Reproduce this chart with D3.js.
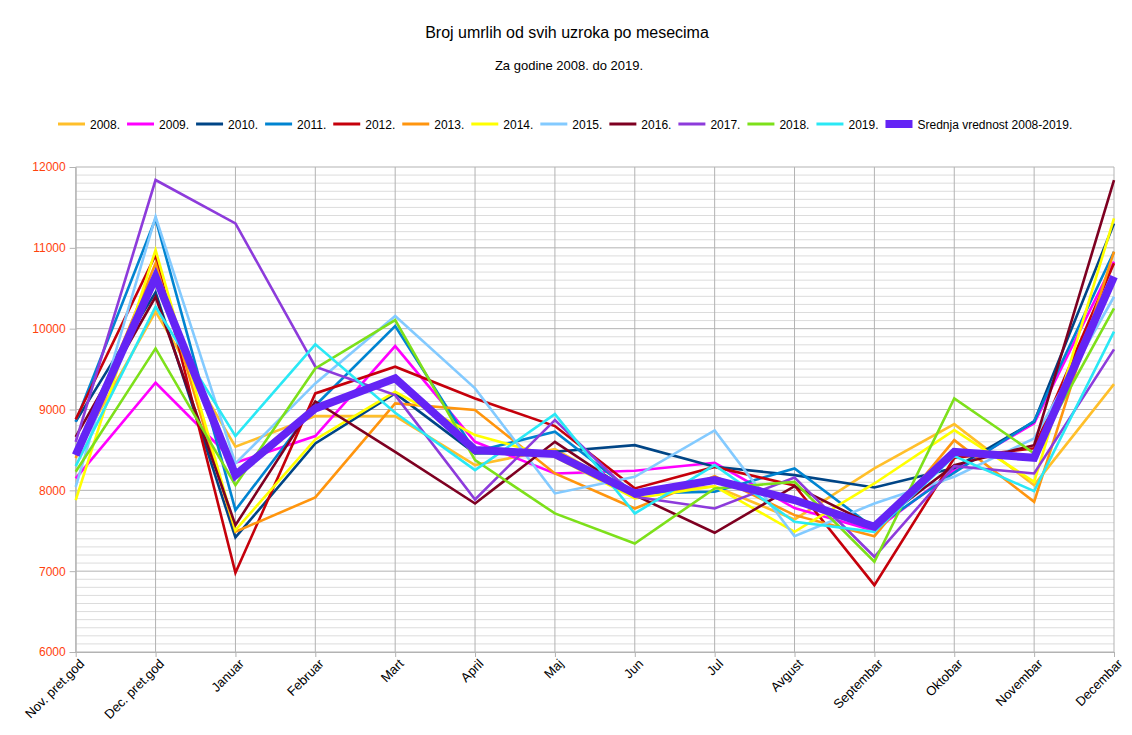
<!DOCTYPE html>
<html><head><meta charset="utf-8">
<script src="https://cdn.jsdelivr.net/npm/d3@7"></script>
<style>body{margin:0;background:#fff} svg{display:block;font-family:"Liberation Sans",Arial,sans-serif}</style>
</head><body><svg id="c" width="1132" height="735"></svg>
<script>
const categories = ["Nov. pret.god","Dec. pret.god","Januar","Februar","Mart","April","Maj","Jun","Jul","Avgust","Septembar","Oktobar","Novembar","Decembar"];
const seriesNames = ["2008.","2009.","2010.","2011.","2012.","2013.","2014.","2015.","2016.","2017.","2018.","2019."];
const v2008 = [8450,10210,8539,8918,8918,8312,8510,7950,8050,7640,8271,8819,8064,9314];
const v2009 = [8147,9331,8341,8671,9785,8600,8209,8243,8341,7780,7500,8250,8830,10830];
const v2010 = [8850,10450,7417,8580,9199,8457,8477,8559,8292,8188,8035,8275,8850,11300];
const v2011 = [8848,11360,7755,9050,10032,8480,8725,7962,7983,8271,7530,8220,8856,10950];
const v2012 = [8877,10911,6979,9199,9529,9137,8795,8024,8290,8060,6827,8400,8520,10808];
const v2013 = [8400,10808,7487,7912,9075,8993,8209,7775,8176,7693,7433,8621,7858,10952];
const v2014 = [7879,10973,7507,8630,9219,8683,8415,7900,8050,7487,8085,8745,8105,11365];
const v2015 = [8044,11385,8333,9323,10156,9261,7962,8168,8741,7433,7837,8168,8642,10395];
const v2016 = [8662,10395,7569,9100,8477,7837,8600,7940,7475,8052,7560,8312,8559,11839];
const v2017 = [8600,11839,11303,9529,9178,7887,8869,7921,7775,8159,7178,8300,8209,9744];
const v2018 = [8229,9756,8064,9508,10106,8374,7714,7342,8024,8105,7116,9137,8457,10252];
const v2019 = [8300,10271,8671,9806,8960,8250,8943,7714,8312,7611,7487,8423,7990,9963];
const meanName = "Srednja vrednost 2008-2019.";
const meanValues = [8436,10640,8188,9013,9385,8498,8448,7962,8126,7880,7549,8477,8403,10643];
const yTicks = [6000,7000,8000,9000,10000,11000,12000];
const titleText = "Broj umrlih od svih uzroka po mesecima";
const subtitleText = "Za godine 2008. do 2019.";

const seriesValues = [v2008,v2009,v2010,v2011,v2012,v2013,v2014,v2015,v2016,v2017,v2018,v2019];
const colors = ["#ffbf2a","#ff00ff","#004586","#0084d1","#c5000b","#ff950e","#ffff00","#83caff","#7e0021","#8d3bdb","#7de01a","#2ae8f5"];
const meanColor = "#6424f5";

const svg = d3.select("#c");
const x = d3.scalePoint().domain(categories).range([75.7, 1114]);
const y = d3.scaleLinear().domain([6000, 12000]).range([652, 167]);

svg.append("text").attr("x", 567).attr("y", 38).attr("text-anchor","middle").attr("font-size",16).text(titleText);
svg.append("text").attr("x", 569).attr("y", 70).attr("text-anchor","middle").attr("font-size",13).text(subtitleText);

// gridlines
const g = svg.append("g");
g.selectAll("line.minor").data(d3.range(6000, 12001, 100).filter(v => v % 1000 !== 0)).join("line")
  .attr("x1", 75.7).attr("x2", 1114).attr("y1", d => y(d)).attr("y2", d => y(d))
  .attr("stroke", "#dcdcdc").attr("stroke-width", 1);
g.selectAll("line.major").data(yTicks).join("line")
  .attr("x1", 75.7).attr("x2", 1114).attr("y1", d => y(d)).attr("y2", d => y(d))
  .attr("stroke", "#b3b3b3").attr("stroke-width", 1);
g.selectAll("line.vert").data(categories).join("line")
  .attr("x1", d => x(d)).attr("x2", d => x(d)).attr("y1", 167).attr("y2", 652)
  .attr("stroke", "#b3b3b3").attr("stroke-width", 1);

// axes
const yAxis = svg.append("g").attr("transform","translate(75.7,0)")
  .call(d3.axisLeft(y).tickValues(yTicks).tickSize(6).tickPadding(4).tickFormat(d3.format("d")));
yAxis.select(".domain").attr("stroke","#b3b3b3");
yAxis.selectAll(".tick line").attr("stroke","#b3b3b3");
yAxis.selectAll("text").attr("fill","#ff420e").attr("font-size",12).attr("font-family",'"Liberation Sans",Arial,sans-serif');

const xAxis = svg.append("g").attr("transform","translate(0,652)")
  .call(d3.axisBottom(x).tickSize(5).tickSizeOuter(0));
xAxis.select(".domain").attr("stroke","#b3b3b3");
xAxis.selectAll(".tick line").attr("stroke","#b3b3b3");
xAxis.selectAll("text").attr("fill","#000").attr("font-size",13).attr("font-family",'"Liberation Sans",Arial,sans-serif')
  .attr("text-anchor","end").attr("transform","rotate(-45)").attr("dx","-0.2em").attr("dy","0.55em");

// lines
const line = d3.line().x((d,i) => x(categories[i])).y(d => y(d)).curve(d3.curveLinear);
svg.append("g").selectAll("path").data(seriesValues).join("path")
  .attr("d", d => line(d)).attr("fill","none").attr("stroke",(d,i) => colors[i])
  .attr("stroke-width", 2.6).attr("stroke-linejoin","miter");
svg.append("path").attr("d", line(meanValues)).attr("fill","none").attr("stroke", meanColor)
  .attr("stroke-width", 8).attr("stroke-linejoin","miter");

// legend
const leg = svg.append("g").attr("font-size",12);
let lx = 58; const ly = 124;
seriesNames.forEach((n,i) => {
  leg.append("line").attr("x1",lx).attr("x2",lx+27).attr("y1",ly).attr("y2",ly).attr("stroke",colors[i]).attr("stroke-width",3);
  const t = leg.append("text").attr("x",lx+32).attr("y",ly+4.5).text(n);
  lx += 32 + t.node().getComputedTextLength() + 7;
});
leg.append("rect").attr("x",lx).attr("y",ly-4).attr("width",27).attr("height",8).attr("fill",meanColor);
leg.append("text").attr("x",lx+32).attr("y",ly+4.5).text(meanName);
</script></body></html>
